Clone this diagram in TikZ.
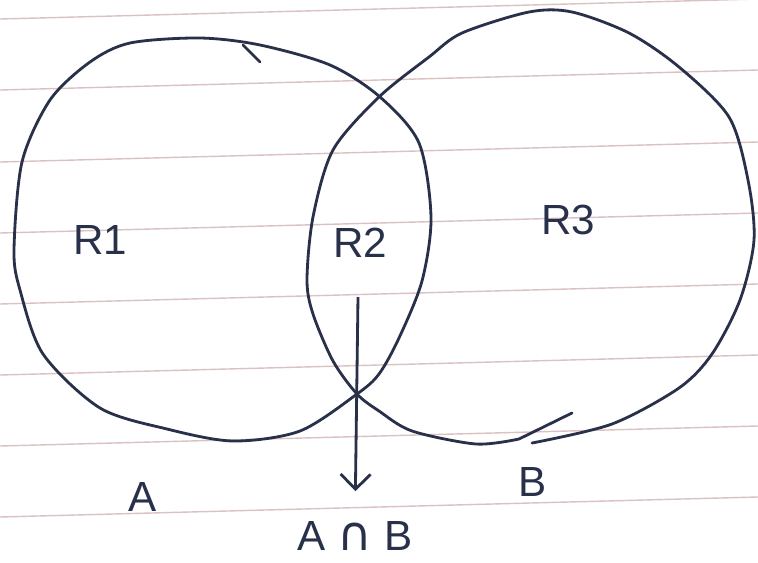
\documentclass[tikz,border=0pt]{standalone}
\usepackage{fontspec}
\setmainfont{Liberation Sans}
\newfontfamily\symfont{DejaVu Sans}
\usetikzlibrary{arrows.meta, positioning}
\definecolor{ink}{rgb}{0.16,0.19,0.29}
\definecolor{rule}{rgb}{0.86,0.76,0.76}

\begin{document}
\begin{tikzpicture}[x=0.02cm, y=-0.02cm,
  ruling/.style={draw=rule, line width=0.8pt},
  outline/.style={draw=ink, line width=1.6pt, line cap=round, line join=round},
  region/.style={text=ink, font=\fontsize{24}{28}\selectfont, inner sep=1pt},
  pointer/.style={draw=ink, line width=1.6pt, -{Straight Barb[length=3mm, width=6mm, line width=1.6pt]}}]
  \useasboundingbox[fill=white] (0,0) rectangle (758,562);

  \foreach \y in {19, 90, 162, 233, 304, 375, 446, 517}
    \draw[ruling] (0,\y) -- (758,\y-20);

  \draw[outline] plot[smooth cycle, tension=0.5] coordinates {
    (14,250) (22,162) (50,100) (90,62) (130,43) (200,38) (260,45) (330,65)
    (380,97) (419,143) (431,217) (422,281) (399,338) (379,374) (357,394)
    (300,431) (233,441) (167,429) (100,408) (43,354) (20,290)};
  \draw[outline] (243,45) -- (260,62);

  \draw[outline] plot[smooth, tension=0.5] coordinates {
    (532,443) (612,424) (679,388) (712,354) (740,300) (754,240) (748,180)
    (729,117) (679,67) (629,33) (572,12) (529,12) (462,33) (429,57)
    (379,97) (333,150) (313,217) (307,280) (313,314) (333,361) (357,394)
    (379,411) (412,431) (476,444) (519,439)} -- (572,413);

  \node[region] (r1) at (100,240) {R1};
  \node[region] (r2) at (360,243) {R2};
  \node[region] (r3) at (568,220) {R3};
  \node[region] (a) at (143,497) {A};
  \node[region] (b) at (533,482) {B};
  \node[region, inner sep=0pt] (ab) at (355,536) {A {\symfont\fontsize{27}{27}\selectfont ∩} B};

  \coordinate (from) at (358,297);
  \draw[pointer, shorten >=0.6cm] (from) -- (ab.north);
\end{tikzpicture}
\end{document}
